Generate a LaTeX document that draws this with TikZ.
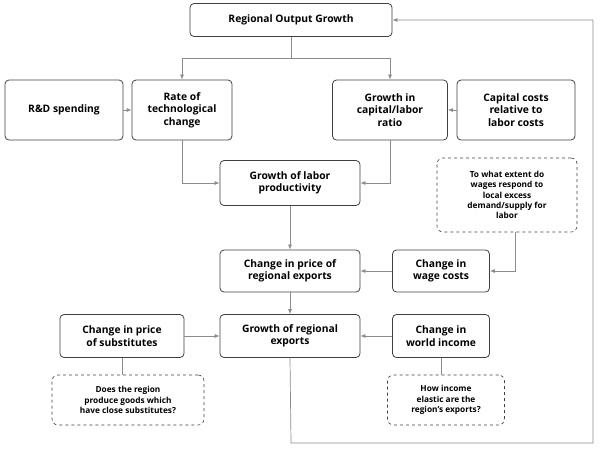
\documentclass[tikz,border=0pt]{standalone}
\usepackage{fontspec}
\setmainfont{Open Sans}
\usetikzlibrary{arrows.meta}
\begin{document}
\begin{tikzpicture}[x=1pt,y=-1pt,
 box/.style={draw=black!75,rounded corners=4pt,line width=0.8pt,align=center,font=\bfseries\fontsize{10.3}{12.3}\selectfont,inner sep=2pt},
 dbox/.style={draw=black!75,dashed,rounded corners=6pt,line width=0.6pt,align=center,font=\bfseries\fontsize{8.3}{10.3}\selectfont,inner sep=2pt},
 arr/.style={draw=black!45,line width=0.7pt,-{Latex[length=5pt,width=4pt]}},
 ln/.style={draw=black!45,line width=0.7pt}]
\useasboundingbox (0,0) rectangle (600,451);
\node[box,minimum width=202,minimum height=33] (rog) at (291,20) {Regional Output Growth};
\node[box,minimum width=118,minimum height=60] (rd) at (64,110) {R\&D spending};
\node[box,minimum width=100,minimum height=60] (rate) at (182,110) {Rate of\\technological\\change};
\node[box,minimum width=115,minimum height=60] (gcl) at (390,110) {Growth in\\capital/labor\\ratio};
\node[box,minimum width=118,minimum height=60] (cc) at (516,110) {Capital costs\\relative to\\labor costs};
\node[box,minimum width=140,minimum height=45] (glp) at (290,183) {Growth of labor\\productivity};
\node[dbox,minimum width=140,minimum height=74] (ext) at (507,195) {To what extent do\\wages respond to\\local excess\\demand/supply for\\labor};
\node[box,minimum width=140,minimum height=42] (cpre) at (290,271) {Change in price of\\regional exports};
\node[box,minimum width=97,minimum height=42] (wage) at (441,271) {Change in\\wage costs};
\node[box,minimum width=124,minimum height=43] (sub) at (122,336) {Change in price\\of substitutes};
\node[box,minimum width=140,minimum height=43] (gre) at (290,336) {Growth of regional\\exports};
\node[box,minimum width=97,minimum height=43] (wi) at (441,336) {Change in\\world income};
\node[dbox,minimum width=152,minimum height=50] (does) at (128,400) {Does the region\\produce goods which\\have close substitutes?};
\node[dbox,minimum width=117,minimum height=50] (how) at (446,400) {How income\\elastic are the\\region's exports?};
\coordinate (j) at (291,58);
\draw[ln] (rog.south) -- (j);
\draw[arr] (j) -| (rate.north);
\draw[arr] (j) -| (gcl.north);
\draw[arr] (rd) -- (rate);
\draw[arr] (cc) -- (gcl);
\draw[arr] (rate.south) |- (glp.west);
\draw[arr] (gcl.south) |- (glp.east);
\draw[arr] (glp) -- (cpre);
\draw[arr] (ext.south -| 515,0) |- (wage.east);
\draw[arr] (wage) -- (cpre);
\draw[arr] (cpre) -- (gre);
\draw[arr] (sub) -- (gre);
\draw[arr] (wi) -- (gre);
\draw[ln] (sub.south) -- (sub.south |- does.north);
\draw[ln] (wi.south) -- (wi.south |- how.north);
\coordinate (b1) at (291,443);
\coordinate (b2) at (593,443);
\draw[arr] (gre.south) -- (b1) -- (b2) |- (rog.east);
\end{tikzpicture}
\end{document}
